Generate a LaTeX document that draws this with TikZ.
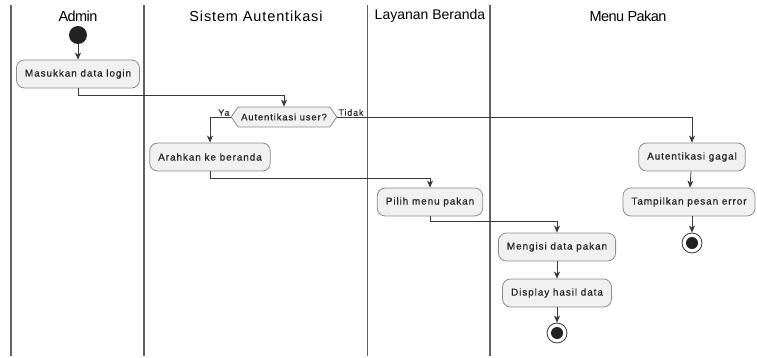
\documentclass[tikz,border=0pt]{standalone}
\usepackage{fontspec}
\setmainfont{Liberation Sans}
\newfontfamily\actfont[LetterSpace=9,FakeBold=0.6]{Liberation Sans}
\newfontfamily\wideheadfont[LetterSpace=6]{Liberation Sans}
\newfontfamily\narrowheadfont[LetterSpace=-4]{Liberation Sans}
\usepackage{tikz}
\usetikzlibrary{arrows.meta,shapes.symbols}
\definecolor{line}{HTML}{3A3A3A}
\definecolor{boxfill}{HTML}{F1F1F1}
\definecolor{boxdraw}{HTML}{8C8C8C}
\definecolor{dotfill}{HTML}{222222}
\tikzset{
  lane/.style={draw=line!80, line width=1.3pt},
  head/.style={font=\fontsize{14.5}{16}\selectfont, text=black},
  act/.style={draw=boxdraw, fill=boxfill, rounded corners=8pt, line width=0.8pt,
    minimum height=28pt, inner xsep=8.5pt, text=black!85, font=\actfont\fontsize{10}{12}\selectfont},
  cond/.style={draw=boxdraw, fill=boxfill, line width=0.8pt, signal, signal to=west and east,
    signal pointer angle=110, minimum height=20pt, inner xsep=3pt, inner ysep=2pt,
    text=black!85, font=\actfont\fontsize{9.5}{12}\selectfont},
  flow/.style={draw=line, line width=0.8pt, -{Stealth[length=7pt,width=6pt,inset=2pt]}},
  startdot/.style={circle, fill=dotfill, minimum size=18pt, inner sep=0pt},
  enddot/.style={circle, draw=line, fill=white, line width=0.8pt, minimum size=20pt, inner sep=0pt,
    path picture={\fill[dotfill] (path picture bounding box.center) circle (6pt);}},
  lab/.style={font=\actfont\fontsize{9}{10}\selectfont, text=black!85, inner sep=1pt},
}
\begin{document}
\begin{tikzpicture}[x=1pt,y=-1pt]
  \useasboundingbox (0,0) rectangle (757,358);
  % swimlanes
  \foreach \x in {11,144,367.5,490}
    \draw[lane] (\x,5) -- (\x,356);
  \node[head, font=\narrowheadfont\fontsize{14.5}{16}\selectfont] (hadmin) at (78,16) {Admin};
  \node[head, font=\wideheadfont\fontsize{14.5}{16}\selectfont] (hsistem) at (256,16) {Sistem Autentikasi};
  \node[head, font=\fontsize{14}{16}\selectfont] (hlayanan) at (430,16) {Layanan Beranda};
  \node[head, font=\narrowheadfont\fontsize{14.5}{16}\selectfont] (hmenu) at (628,16) {Menu Pakan};

  % activities
  \node[startdot] (start) at (78,35) {};
  \node[act] (login) at (78,74) {Masukkan data login};
  \node[cond] (cek) at (284,117) {Autentikasi user?};
  \node[act] (arah) at (210,157) {Arahkan ke beranda};
  \node[act] (gagal) at (692,157) {Autentikasi gagal};
  \node[act] (pilih) at (430,202) {Pilih menu pakan};
  \node[act] (pesan) at (689,202) {Tampilkan pesan error};
  \node[act] (isi) at (557,247) {Mengisi data pakan};
  \node[act] (hasil) at (557,293) {Display hasil data};
  \node[enddot] (stop1) at (692,243) {};
  \node[enddot] (stop2) at (557,333) {};

  % connectors
  \draw[flow] (start) -- (login);
  \draw[flow] (login.south) -- ++(0,7) -| (cek.north);
  \draw[flow] (cek.west) -| (arah.north);
  \draw[flow] (cek.east) -| (gagal.north);
  \node[lab, anchor=south east] (ya) at (cek.west) {Ya};
  \node[lab, anchor=south west] (tidak) at (cek.east) {Tidak};
  \draw[flow] (arah.south) -- ++(0,7) -| (pilih.north);
  \draw[flow] (gagal) -- (pesan);
  \draw[flow] (pesan.south -| stop1) -- (stop1);
  \draw[flow] (pilih.south) -- ++(0,5) -| (isi.north);
  \draw[flow] (isi) -- (hasil);
  \draw[flow] (hasil) -- (stop2);
\end{tikzpicture}
\end{document}
